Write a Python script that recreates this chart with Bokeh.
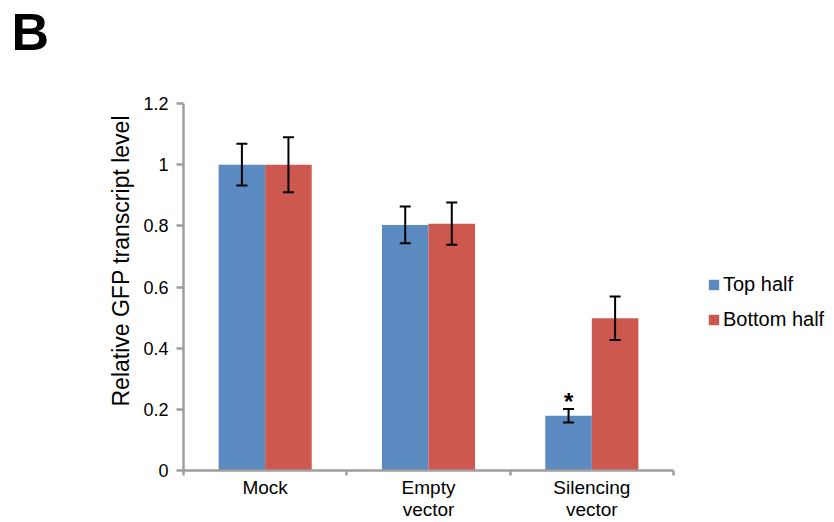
from bokeh.plotting import figure
from bokeh.models import (ColumnDataSource, Whisker, TeeHead, Legend, LegendItem, FixedTicker, Title)
from bokeh.core.properties import value
from bokeh.embed import file_html
from bokeh.resources import INLINE

# ---- data ----
categories = ["Mock", "Empty\nvector", "Silencing\nvector"]
series_names = ["Top half", "Bottom half"]
top_half = [1.00, 0.803, 0.179]
top_err = [0.068, 0.060, 0.022]
bottom_half = [1.00, 0.807, 0.498]
bottom_err = [0.090, 0.069, 0.071]
y_ticks = [0, 0.2, 0.4, 0.6, 0.8, 1.0, 1.2]
y_tick_labels = ["0", "0.2", "0.4", "0.6", "0.8", "1", "1.2"]
significance = ["", "", "*"]
y_title = "Relative GFP transcript  level"
panel_letter = "B"

BLUE = "#5b8bc0"
RED = "#cd5850"
AXIS = "#a19d99"
FONT = "Liberation Sans"

n = len(categories)
bw = 0.285
x_top = [i + 0.5 - bw / 2 for i in range(n)]
x_bot = [i + 0.5 + bw / 2 for i in range(n)]
x_mid = [i + 0.5 for i in range(n)]

W, H = 834, 522
LEFT, TOP, BOTTOM = 183, 101, 51
plot_w = 490  # width of the category area in px
x_end = n * (W - LEFT) / plot_w  # frame extends to the right edge to hold the legend

p = figure(width=W, height=H, x_range=(0, x_end), y_range=(0, 1.2),
           output_backend="svg", toolbar_location=None,
           min_border_left=LEFT, min_border_right=0,
           min_border_top=TOP, min_border_bottom=BOTTOM)
p.outline_line_color = None
p.grid.visible = False
p.background_fill_color = "white"

src_t = ColumnDataSource(dict(x=x_top, y=top_half, lo=[v - e for v, e in zip(top_half, top_err)],
                              hi=[v + e for v, e in zip(top_half, top_err)]))
src_b = ColumnDataSource(dict(x=x_bot, y=bottom_half, lo=[v - e for v, e in zip(bottom_half, bottom_err)],
                              hi=[v + e for v, e in zip(bottom_half, bottom_err)]))

r1 = p.vbar(x="x", top="y", width=bw, bottom=0, source=src_t, fill_color=BLUE, line_color=None)
r2 = p.vbar(x="x", top="y", width=bw, bottom=0, source=src_b, fill_color=RED, line_color=None)

for src in (src_t, src_b):
    w = Whisker(base="x", upper="hi", lower="lo", source=src, line_color="black", line_width=2,
                level="overlay",
                upper_head=TeeHead(size=11, line_color="black", line_width=2),
                lower_head=TeeHead(size=11, line_color="black", line_width=2))
    p.add_layout(w)

# significance marks
sig_x = [x_top[i] for i in range(n) if significance[i]]
sig_y = [top_half[i] + top_err[i] + 0.024 for i in range(n) if significance[i]]
sig_t = [s for s in significance if s]
p.text(x=sig_x, y=sig_y, text=sig_t, text_align="center", text_baseline="alphabetic",
       text_font=value(FONT), text_font_style="bold", text_font_size="24px", text_color="black")

# y axis
ya = p.yaxis[0]
ya.ticker = FixedTicker(ticks=y_ticks)
ya.major_label_overrides = {t: l for t, l in zip(y_ticks, y_tick_labels)}
ya.axis_line_color = AXIS
ya.axis_line_width = 2.5
ya.major_tick_line_color = AXIS
ya.major_tick_line_width = 2.5
ya.major_tick_out = 7
ya.major_tick_in = 0
ya.minor_tick_line_color = None
ya.major_label_standoff = 8
ya.major_label_text_font = FONT
ya.major_label_text_font_size = "18px"
ya.major_label_text_color = "black"

# y axis title (as a side title, so it can sit off-centre like the original)
p.add_layout(Title(text=y_title, align="left", offset=64, vertical_align="bottom", standoff=14,
                   text_font=FONT, text_font_size="23px", text_font_style="normal",
                   text_color="black"), "left")

# x axis: labels at category centres, ticks at category boundaries (minor ticks)
xa = p.xaxis[0]
xa.bounds = (0, n)
xa.ticker = FixedTicker(ticks=x_mid, minor_ticks=list(range(n + 1)))
xa.major_label_overrides = {m: c for m, c in zip(x_mid, categories)}
xa.axis_line_color = AXIS
xa.axis_line_width = 2.5
xa.major_tick_line_color = None
xa.major_tick_out = 0
xa.major_tick_in = 0
xa.minor_tick_line_color = AXIS
xa.minor_tick_line_width = 2.5
xa.minor_tick_out = 5
xa.minor_tick_in = 0
xa.major_label_standoff = 1
xa.major_label_text_font = FONT
xa.major_label_text_font_size = "19px"
xa.major_label_text_color = "black"
xa.major_label_text_line_height = 1.05

# panel letter: a thin spacer title next to the frame, then the letter above it
p.add_layout(Title(text=" ", text_font_size="1px", standoff=40), "above")
p.add_layout(Title(text=panel_letter, align="left", offset=-172, vertical_align="bottom", standoff=0,
                   text_font=FONT, text_font_size="52px", text_font_style="bold",
                   text_color="black"), "above")

legend = Legend(items=[LegendItem(label=series_names[0], renderers=[r1]),
                       LegendItem(label=series_names[1], renderers=[r2])],
                location=(524, 139), orientation="vertical",
                glyph_width=13, glyph_height=13, label_standoff=3, spacing=12,
                padding=0, margin=0, border_line_color=None, background_fill_alpha=0,
                label_text_font=FONT, label_text_font_size="20px", label_text_color="black")
p.add_layout(legend, "center")

open("out.html", "w").write(file_html(p, INLINE))
